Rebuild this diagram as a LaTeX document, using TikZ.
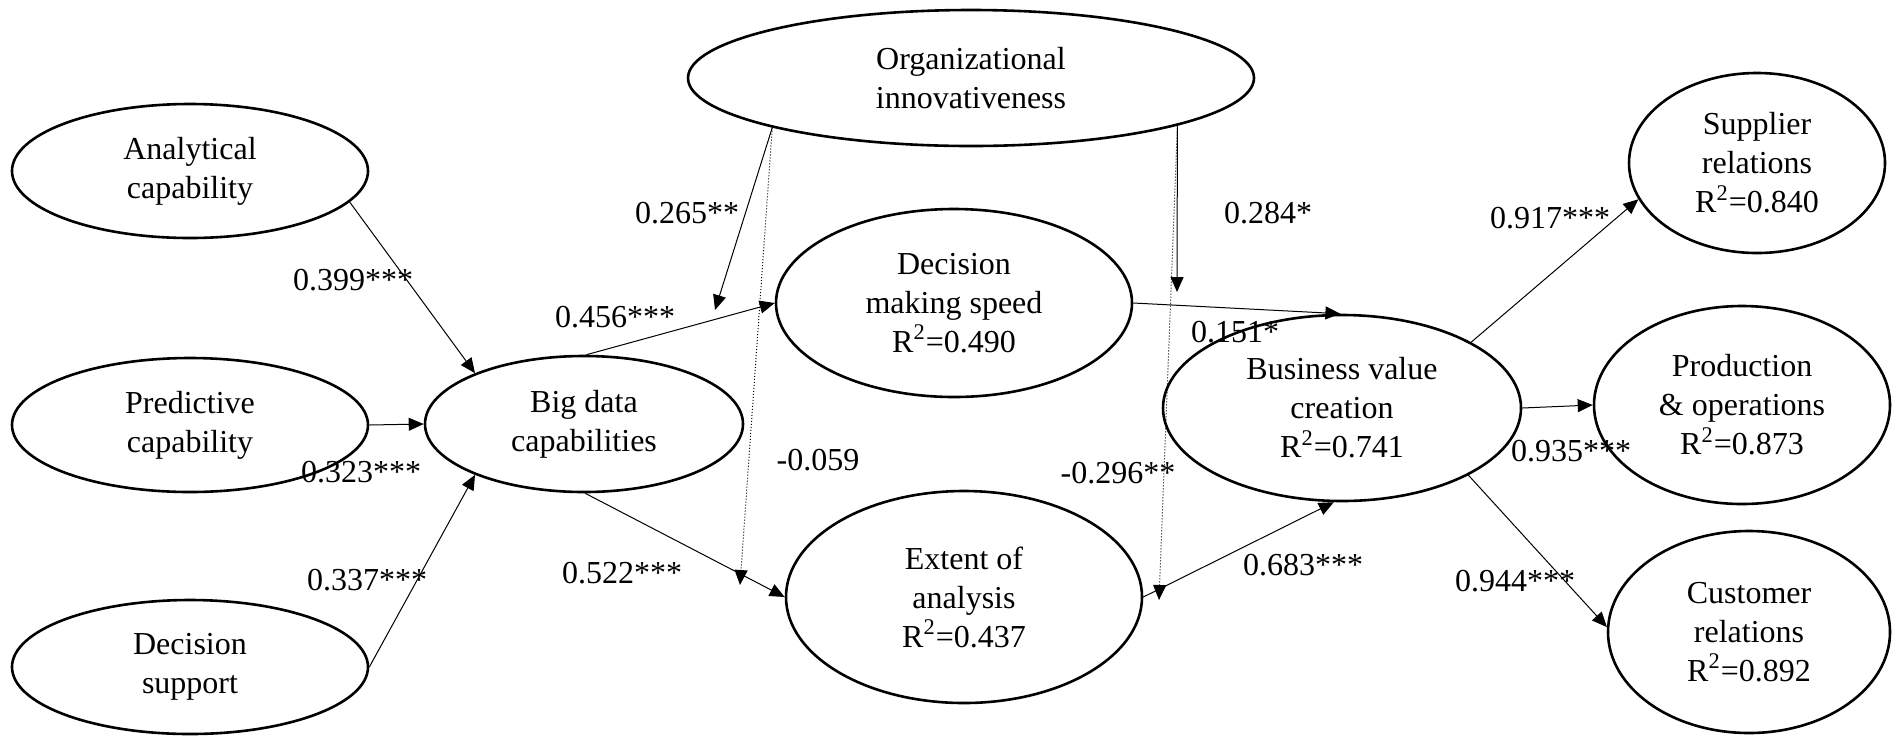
\documentclass[tikz,border=0pt]{standalone}
\usepackage{fontspec}
\setmainfont{Liberation Serif}
\usetikzlibrary{shapes.geometric,arrows.meta}
\begin{document}
\begin{tikzpicture}[x=0.5pt,y=-0.5pt,
  every node/.style={font=\fontsize{16}{19.5}\selectfont},
  lat/.style={draw, ellipse, line width=1.3pt, inner sep=0pt, align=center},
  arr/.style={-{Triangle[length=7.5pt,width=6.5pt]}, line width=0.5pt},
  dots/.style={-{Triangle[length=7.5pt,width=6.5pt]}, line width=0.5pt, densely dotted},
  lbl/.style={inner sep=0pt}]
\useasboundingbox (0,0) rectangle (1898,735);
% latent variables
\node[lat, minimum width=178pt, minimum height=67pt] (AC) at (190,171) {Analytical\\capability};
\node[lat, minimum width=178pt, minimum height=67pt] (PC) at (190,425) {Predictive\\capability};
\node[lat, minimum width=178pt, minimum height=67pt] (DS) at (190,667) {Decision\\support};
\node[lat, minimum width=159pt, minimum height=68pt] (BD) at (584,424) {Big data\\capabilities};
\node[lat, minimum width=283pt, minimum height=68pt] (OI) at (971,78) {Organizational\\innovativeness};
\node[lat, minimum width=178pt, minimum height=94pt] (DMS) at (954,303) {Decision\\making speed\\R\textsuperscript{2}=0.490};
\node[lat, minimum width=178pt, minimum height=106pt] (EA) at (964,597) {Extent of\\analysis\\R\textsuperscript{2}=0.437};
\node[lat, minimum width=179pt, minimum height=93pt] (BVC) at (1342,408) {Business value\\creation\\R\textsuperscript{2}=0.741};
\node[lat, minimum width=128pt, minimum height=90pt] (SR) at (1757,163) {Supplier\\relations\\R\textsuperscript{2}=0.840};
\node[lat, minimum width=148pt, minimum height=99pt] (PO) at (1742,405) {Production\\\& operations\\R\textsuperscript{2}=0.873};
\node[lat, minimum width=141pt, minimum height=101pt] (CR) at (1749,632) {Customer\\relations\\R\textsuperscript{2}=0.892};
% free ends of moderation arrows
\coordinate (m1) at (715,310);
\coordinate (m2) at (740,585);
\coordinate (m3) at (1177,292);
\coordinate (m4) at (1159,600);
% paths
\draw[arr] (AC.-11) -- (BD.155);
\draw[arr] (PC.0) -- (BD.180);
\draw[arr] (DS.0) -- (BD.205);
\draw[arr] (BD.88) -- (DMS.180);
\draw[arr] (BD.-89) -- (EA.180);
\draw[arr] (DMS.0) -- (BVC.91);
\draw[arr] (EA.0) -- (BVC.-95);
\draw[arr] (BVC.27) -- (SR.197);
\draw[arr] (BVC.0) -- (PO.180);
\draw[arr] (BVC.-28) -- (CR.178);
\draw[arr] (OI.194) -- (m1);
\draw[dots] (OI.194) -- (m2);
\draw[arr] (OI.-13) -- (m3);
\draw[dots] (OI.-13.4) -- (m4);
% labels
\node[lbl] (l1) at (353,280) {0.399***};
\node[lbl] (l2) at (361,472) {0.323***};
\node[lbl] (l3) at (367,580) {0.337***};
\node[lbl] (l4) at (615,317) {0.456***};
\node[lbl] (l5) at (622,573) {0.522***};
\node[lbl] (l6) at (687,213) {0.265**};
\node[lbl] (l7) at (818,460) {-0.059};
\node[lbl] (l8) at (1268,213) {0.284*};
\node[lbl] (l9) at (1235,332) {0.151*};
\node[lbl] (l10) at (1118,473) {-0.296**};
\node[lbl] (l11) at (1303,565) {0.683***};
\node[lbl] (l12) at (1550,218) {0.917***};
\node[lbl] (l13) at (1571,451) {0.935***};
\node[lbl] (l14) at (1515,581) {0.944***};
\end{tikzpicture}
\end{document}
